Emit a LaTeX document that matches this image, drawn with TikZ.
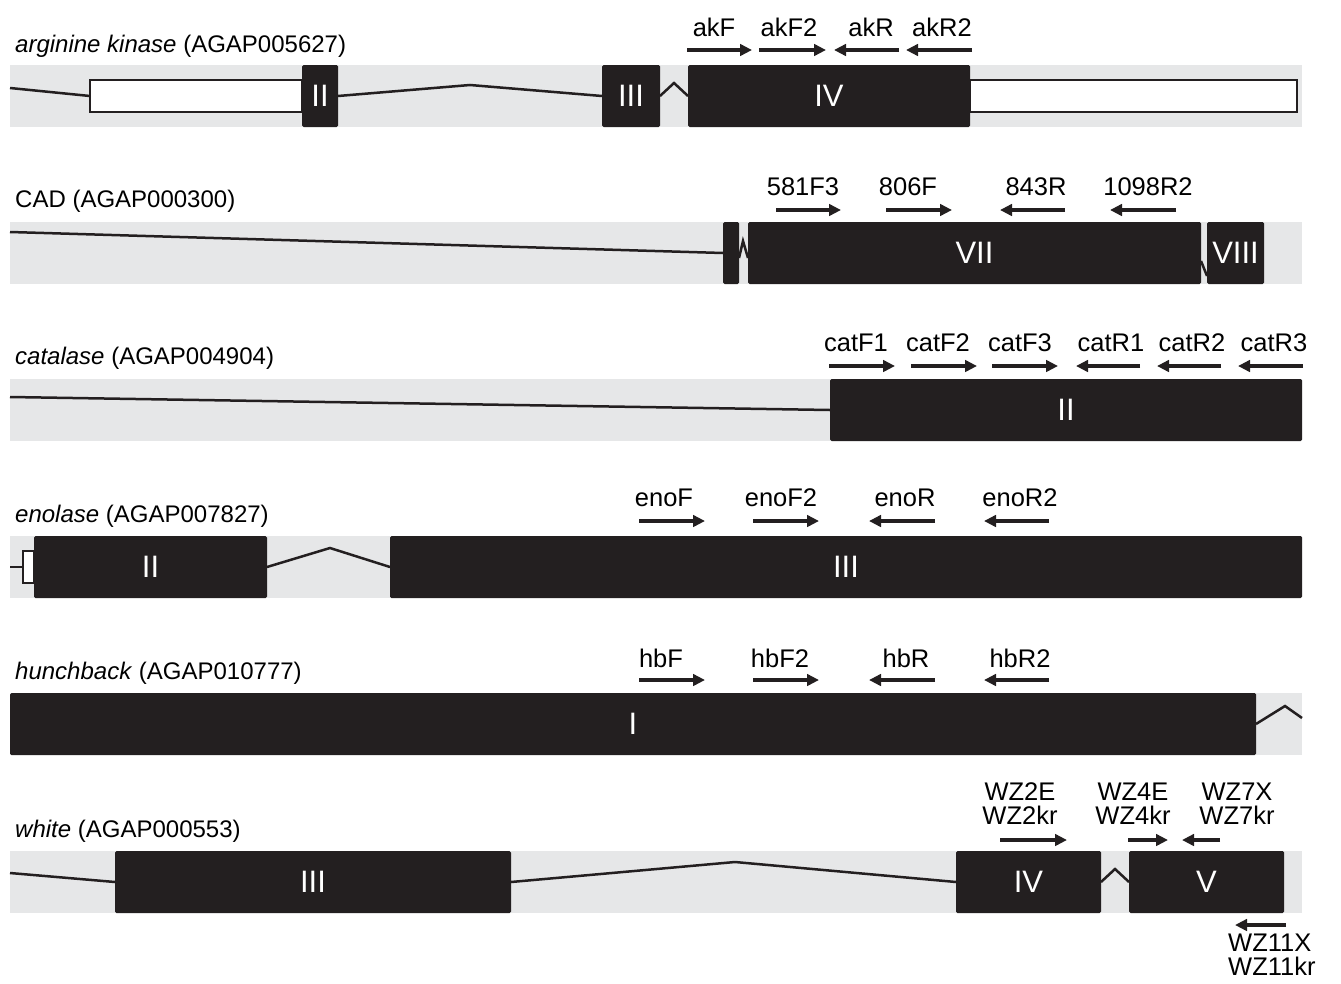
\documentclass[tikz,border=0pt]{standalone}
\usepackage{fontspec}
\setmainfont{Liberation Sans}
\usetikzlibrary{arrows.meta,calc}
\definecolor{bandc}{HTML}{E6E7E8}
\definecolor{exonc}{HTML}{231F20}
\tikzset{
 bandbox/.style={fill=bandc, draw=none},
 exon/.style={fill=exonc, draw=none, rounded corners=1.5pt, inner sep=0pt, outer sep=0pt, text=white, font=\fontsize{31}{32}\selectfont, minimum height=62pt, anchor=west},
 utr/.style={fill=white, draw=exonc, line width=2.2pt, inner sep=0pt, outer sep=0pt, minimum height=32pt, anchor=west},
 intron/.style={draw=exonc, line width=2.5pt, line join=miter},
 primer/.style={draw=exonc, line width=3.2pt, -{Triangle[length=12pt,width=11.5pt]}},
 plabel/.style={font=\fontsize{25.5}{24}\selectfont, inner sep=0pt, align=center},
 glabel/.style={font=\fontsize{24}{26}\selectfont, anchor=west, inner sep=0pt},
}
\begin{document}
\begin{tikzpicture}[x=1pt,y=-1pt]
\useasboundingbox (0,0) rectangle (1341,983);
% ---------------- Track 1: arginine kinase
\fill[bandbox] (10,65) rectangle (1302,127);
\node[glabel] (g1) at (15,46) {\textit{arginine kinase} (AGAP005627)};
\coordinate (a0) at (10,88);
\node[utr, minimum width=212pt] (au1) at (90,96) {};
\node[utr, minimum width=327pt] (au2) at (970,96) {};
\node[exon, minimum width=36pt] (ak2) at (302,96) {II};
\node[exon, minimum width=58pt] (ak3) at (602,96) {III};
\node[exon, minimum width=282pt] (ak4) at (688,96) {IV};
\coordinate (ai1) at (470,85);
\coordinate (ai2) at (674,83);
\draw[intron] (a0) -- (au1.west);
\draw[intron] (ak2.east) -- (ai1) -- (ak3.west);
\draw[intron] (ak3.east) -- (ai2) -- (ak4.west);
\coordinate (p11a) at (687,50); \coordinate (p11b) at (752,50);
\coordinate (p12a) at (759,50); \coordinate (p12b) at (826,50);
\coordinate (p13a) at (899,50); \coordinate (p13b) at (834,50);
\coordinate (p14a) at (972,50); \coordinate (p14b) at (906,50);
\draw[primer] (p11a) -- (p11b);
\draw[primer] (p12a) -- (p12b);
\draw[primer] (p13a) -- (p13b);
\draw[primer] (p14a) -- (p14b);
\node[plabel] (l11) at (714,27) {akF};
\node[plabel] (l12) at (789,27) {akF2};
\node[plabel] (l13) at (871,27) {akR};
\node[plabel] (l14) at (942,27) {akR2};
% ---------------- Track 2: CAD
\fill[bandbox] (10,222) rectangle (1302,284);
\node[glabel] (g2) at (15,201) {CAD (AGAP000300)};
\coordinate (c0) at (10,232);
\node[exon, minimum width=16pt] (c6) at (723,253) {};
\node[exon, minimum width=453pt] (c7) at (748,253) {VII};
\node[exon, minimum width=57pt] (c8) at (1207,253) {VIII};
\coordinate (ci1) at (743,241);
\draw[intron] (c0) -- (c6.west);
\draw[intron] ($(c6.east)+(0,5)$) -- (ci1) -- ($(c7.west)+(0,5)$);
\draw[intron] ($(c7.east)+(0,8)$) -- ($(c8.west)+(0,23)$);
\coordinate (p21a) at (776,210); \coordinate (p21b) at (841,210);
\coordinate (p22a) at (886,210); \coordinate (p22b) at (952,210);
\coordinate (p23a) at (1065,210); \coordinate (p23b) at (1000,210);
\coordinate (p24a) at (1176,210); \coordinate (p24b) at (1110,210);
\draw[primer] (p21a) -- (p21b);
\draw[primer] (p22a) -- (p22b);
\draw[primer] (p23a) -- (p23b);
\draw[primer] (p24a) -- (p24b);
\node[plabel] (l21) at (803,187) {581F3};
\node[plabel] (l22) at (908,187) {806F};
\node[plabel] (l23) at (1036,187) {843R};
\node[plabel] (l24) at (1148,187) {1098R2};
% ---------------- Track 3: catalase
\fill[bandbox] (10,379) rectangle (1302,441);
\node[glabel] (g3) at (15,358) {\textit{catalase} (AGAP004904)};
\coordinate (k0) at (10,397);
\node[exon, minimum width=472pt] (k2) at (830,410) {II};
\draw[intron] (k0) -- (k2.west);
\coordinate (p31a) at (829,366); \coordinate (p31b) at (895,366);
\coordinate (p32a) at (911,366); \coordinate (p32b) at (977,366);
\coordinate (p33a) at (992,366); \coordinate (p33b) at (1058,366);
\coordinate (p34a) at (1140,366); \coordinate (p34b) at (1076,366);
\coordinate (p35a) at (1221,366); \coordinate (p35b) at (1157,366);
\coordinate (p36a) at (1303,366); \coordinate (p36b) at (1238,366);
\draw[primer] (p31a) -- (p31b);
\draw[primer] (p32a) -- (p32b);
\draw[primer] (p33a) -- (p33b);
\draw[primer] (p34a) -- (p34b);
\draw[primer] (p35a) -- (p35b);
\draw[primer] (p36a) -- (p36b);
\node[plabel] (l31) at (856,343) {catF1};
\node[plabel] (l32) at (938,343) {catF2};
\node[plabel] (l33) at (1020,343) {catF3};
\node[plabel] (l34) at (1111,343) {catR1};
\node[plabel] (l35) at (1192,343) {catR2};
\node[plabel] (l36) at (1274,343) {catR3};
% ---------------- Track 4: enolase
\fill[bandbox] (10,536) rectangle (1302,598);
\node[glabel] (g4) at (15,516) {\textit{enolase} (AGAP007827)};
\coordinate (e0) at (10,567);
\node[utr, minimum width=11pt] (eu1) at (23,567) {};
\node[exon, minimum width=233pt] (e2) at (34,567) {II};
\node[exon, minimum width=912pt] (e3) at (390,567) {III};
\coordinate (ei1) at (330,548);
\draw[intron] (e0) -- (eu1.west);
\draw[intron] (e2.east) -- (ei1) -- (e3.west);
\coordinate (p41a) at (639,521); \coordinate (p41b) at (705,521);
\coordinate (p42a) at (753,521); \coordinate (p42b) at (819,521);
\coordinate (p43a) at (935,521); \coordinate (p43b) at (869,521);
\coordinate (p44a) at (1049,521); \coordinate (p44b) at (984,521);
\draw[primer] (p41a) -- (p41b);
\draw[primer] (p42a) -- (p42b);
\draw[primer] (p43a) -- (p43b);
\draw[primer] (p44a) -- (p44b);
\node[plabel] (l41) at (664,498) {enoF};
\node[plabel] (l42) at (781,498) {enoF2};
\node[plabel] (l43) at (905,498) {enoR};
\node[plabel] (l44) at (1020,498) {enoR2};
% ---------------- Track 5: hunchback
\fill[bandbox] (10,693) rectangle (1302,755);
\node[glabel] (g5) at (15,673) {\textit{hunchback} (AGAP010777)};
\node[exon, minimum width=1246pt] (h1) at (10,724) {I};
\coordinate (hi1) at (1285,706);
\coordinate (h9) at (1302,718);
\draw[intron] (h1.east) -- (hi1) -- (h9);
\coordinate (p51a) at (639,680); \coordinate (p51b) at (705,680);
\coordinate (p52a) at (753,680); \coordinate (p52b) at (819,680);
\coordinate (p53a) at (935,680); \coordinate (p53b) at (869,680);
\coordinate (p54a) at (1049,680); \coordinate (p54b) at (984,680);
\draw[primer] (p51a) -- (p51b);
\draw[primer] (p52a) -- (p52b);
\draw[primer] (p53a) -- (p53b);
\draw[primer] (p54a) -- (p54b);
\node[plabel] (l51) at (661,658) {hbF};
\node[plabel] (l52) at (780,658) {hbF2};
\node[plabel] (l53) at (906,658) {hbR};
\node[plabel] (l54) at (1020,658) {hbR2};
% ---------------- Track 6: white
\fill[bandbox] (10,851) rectangle (1302,913);
\node[glabel] (g6) at (15,831) {\textit{white} (AGAP000553)};
\coordinate (w0) at (10,873);
\node[exon, minimum width=396pt] (w3) at (115,882) {III};
\node[exon, minimum width=145pt] (w4) at (956,882) {IV};
\node[exon, minimum width=155pt] (w5) at (1129,882) {V};
\coordinate (wi1) at (735,862);
\coordinate (wi2) at (1115,869);
\draw[intron] (w0) -- (w3.west);
\draw[intron] (w3.east) -- (wi1) -- (w4.west);
\draw[intron] (w4.east) -- (wi2) -- (w5.west);
\coordinate (p61a) at (1000,840); \coordinate (p61b) at (1067,840);
\coordinate (p62a) at (1128,840); \coordinate (p62b) at (1168,840);
\coordinate (p63a) at (1220,840); \coordinate (p63b) at (1182,840);
\coordinate (p64a) at (1286,925); \coordinate (p64b) at (1235,925);
\draw[primer] (p61a) -- (p61b);
\draw[primer] (p62a) -- (p62b);
\draw[primer] (p63a) -- (p63b);
\draw[primer] (p64a) -- (p64b);
\node[plabel] (l61) at (1020,804) {WZ2E\\WZ2kr};
\node[plabel] (l62) at (1133,804) {WZ4E\\WZ4kr};
\node[plabel] (l63) at (1237,804) {WZ7X\\WZ7kr};
\node[plabel, align=left, anchor=west] (l64) at (1228,955) {WZ11X\\WZ11kr};
\end{tikzpicture}
\end{document}
